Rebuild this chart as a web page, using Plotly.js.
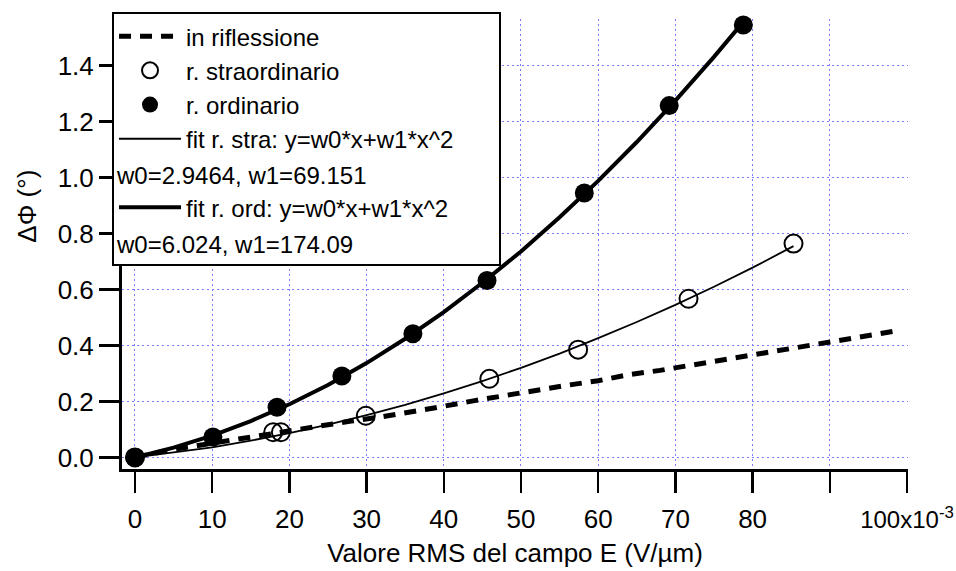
<!DOCTYPE html>
<html>
<head>
<meta charset="utf-8">
<script src="https://cdn.plot.ly/plotly-3.0.1.min.js"></script>
<style>html,body{margin:0;padding:0;background:#fff}#chart{width:956px;height:571px}</style>
</head>
<body>
<div id="chart"></div>
<script>
// "in riflessione" (dashed line)
const riflX = [0, 0.004, 0.008, 0.012, 0.016, 0.020, 0.024, 0.028, 0.032, 0.036, 0.040, 0.044, 0.048, 0.052, 0.056, 0.060, 0.064, 0.068, 0.072, 0.076, 0.080, 0.084, 0.088, 0.092, 0.096, 0.0985];
const riflY = [0, 0.024, 0.042, 0.060, 0.077, 0.094, 0.112, 0.130, 0.145, 0.166, 0.183, 0.203, 0.222, 0.239, 0.258, 0.274, 0.296, 0.311, 0.329, 0.346, 0.365, 0.385, 0.402, 0.422, 0.440, 0.452];
// r. straordinario (open circles)
const straX = [0, 0.0179, 0.0189, 0.0299, 0.0459, 0.0574, 0.0717, 0.0853];
const straY = [0, 0.090, 0.090, 0.149, 0.281, 0.385, 0.567, 0.764];
// r. ordinario (filled circles)
const ordX = [0, 0.0101, 0.0184, 0.0268, 0.0360, 0.0456, 0.0582, 0.0692, 0.0788, 0.0788];
const ordY = [0, 0.073, 0.179, 0.291, 0.442, 0.632, 0.945, 1.257, 1.545, 1.570];
// fit r. stra (thin line)
const fitStraX = [0, 0.005, 0.010, 0.015, 0.020, 0.025, 0.030, 0.035, 0.040, 0.045, 0.050, 0.055, 0.060, 0.065, 0.070, 0.075, 0.080, 0.0853];
const fitStraY = [0, 0.017, 0.036, 0.060, 0.087, 0.117, 0.151, 0.188, 0.229, 0.273, 0.320, 0.371, 0.426, 0.484, 0.545, 0.610, 0.678, 0.755];
// fit r. ord (thick line)
const fitOrdX = [0, 0.005, 0.010, 0.015, 0.020, 0.025, 0.030, 0.035, 0.040, 0.045, 0.050, 0.055, 0.060, 0.065, 0.070, 0.075, 0.0788];
const fitOrdY = [0, 0.035, 0.078, 0.130, 0.190, 0.259, 0.337, 0.424, 0.519, 0.624, 0.736, 0.858, 0.988, 1.127, 1.275, 1.431, 1.556];
// axis ticks
const xTickVals = [0, 0.01, 0.02, 0.03, 0.04, 0.05, 0.06, 0.07, 0.08, 0.09, 0.10];
const xTickText = ['0', '10', '20', '30', '40', '50', '60', '70', '80', '', '<span style="font-size:24px">100x10<sup>-3</sup></span>'];
const yTickVals = [0, 0.2, 0.4, 0.6, 0.8, 1.0, 1.2, 1.4];
const yTickText = ['0.0', '0.2', '0.4', '0.6', '0.8', '1.0', '1.2', '1.4'];
const legendNames = ['in riflessione', 'r. straordinario', 'r. ordinario', 'fit r. stra: y=w0*x+w1*x^2', 'fit r. ord: y=w0*x+w1*x^2'];
const fitParams = ['w0=2.9464, w1=69.151', 'w0=6.024, w1=174.09'];

const FONT = 'Liberation Sans, Arial, Helvetica, sans-serif';
const FS = 26;
const LFS = 24;
const PAD = '\u00a0\u00a0\u00a0\u00a0\u00a0\u00a0';

const traces = [
  {x: riflX, y: riflY, mode: 'lines', name: legendNames[0], legendrank: 1,
   line: {color: '#000', width: 5, dash: '12px,9px'}},
  {x: fitStraX, y: fitStraY, mode: 'lines', name: legendNames[3] + PAD, legendrank: 4,
   line: {color: '#000', width: 1.8}},
  {x: [null], y: [null], mode: 'lines', name: ' ', legendrank: 5, line: {color: 'rgba(0,0,0,0)', width: 0}, hoverinfo: 'skip'},
  {x: fitOrdX, y: fitOrdY, mode: 'lines', name: legendNames[4], legendrank: 6,
   line: {color: '#000', width: 4}},
  {x: [null], y: [null], mode: 'lines', name: '  ', legendrank: 7, line: {color: 'rgba(0,0,0,0)', width: 0}, hoverinfo: 'skip'},
  {x: straX, y: straY, mode: 'markers', name: legendNames[1], legendrank: 2, cliponaxis: false,
   marker: {symbol: 'circle-open', size: 18, color: '#000', line: {color: '#000', width: 2}}},
  {x: ordX, y: ordY, mode: 'markers', name: legendNames[2], legendrank: 3, cliponaxis: false,
   marker: {symbol: 'circle', size: 19, color: '#000'}}
];

const gridColor = '#7a7aff';
const layout = {
  width: 956, height: 571,
  margin: {l: 122, r: 48, t: 14, b: 102, pad: 0},
  paper_bgcolor: '#fff', plot_bgcolor: '#fff',
  font: {family: FONT, size: FS, color: '#000'},
  showlegend: true,
  legend: {
    x: -0.0127, y: 1.0154, xanchor: 'left', yanchor: 'top',
    bgcolor: '#fff', bordercolor: '#000', borderwidth: 2,
    font: {family: FONT, size: LFS, color: '#000'},
    itemwidth: 62, tracegroupgap: 0, traceorder: 'normal'
  },
  xaxis: {
    range: [-0.00168, 0.10013], autorange: false,
    showline: true, linecolor: '#000', linewidth: 3, mirror: false,
    ticks: 'outside', ticklen: 21, tickwidth: 2.5, tickcolor: '#000',
    tickmode: 'array', tickvals: xTickVals, ticktext: xTickText,
    tickfont: {family: FONT, size: FS}, ticklabeloverflow: 'allow', ticklabelstandoff: 4,
    showgrid: true, gridcolor: gridColor, gridwidth: 1, griddash: '2px,3px',
    zeroline: false,
    title: {text: 'Valore RMS del campo E (V/µm)', font: {family: FONT, size: FS}, standoff: 11}
  },
  yaxis: {
    range: [-0.0413, 1.5664], autorange: false,
    showline: true, linecolor: '#000', linewidth: 3, mirror: false,
    ticks: 'outside', ticklen: 20, tickwidth: 2.5, tickcolor: '#000',
    tickmode: 'array', tickvals: yTickVals, ticktext: yTickText,
    tickfont: {family: FONT, size: FS},
    showgrid: true, gridcolor: gridColor, gridwidth: 1, griddash: '2px,3px',
    zeroline: false
  },
  annotations: [
    {xref: 'paper', yref: 'paper', x: -0.1209, y: 0.585, xanchor: 'center', yanchor: 'middle',
     text: 'ΔΦ (°)', textangle: -90, showarrow: false, font: {family: FONT, size: FS}},
    {xref: 'paper', yref: 'paper', x: -0.0100, y: 0.6527, xanchor: 'left', yanchor: 'middle',
     text: fitParams[0], showarrow: false, font: {family: FONT, size: LFS}},
    {xref: 'paper', yref: 'paper', x: -0.0100, y: 0.4989, xanchor: 'left', yanchor: 'middle',
     text: fitParams[1], showarrow: false, font: {family: FONT, size: LFS}}
  ]
};

Plotly.newPlot('chart', traces, layout, {displayModeBar: false, staticPlot: true});
</script>
</body>
</html>
